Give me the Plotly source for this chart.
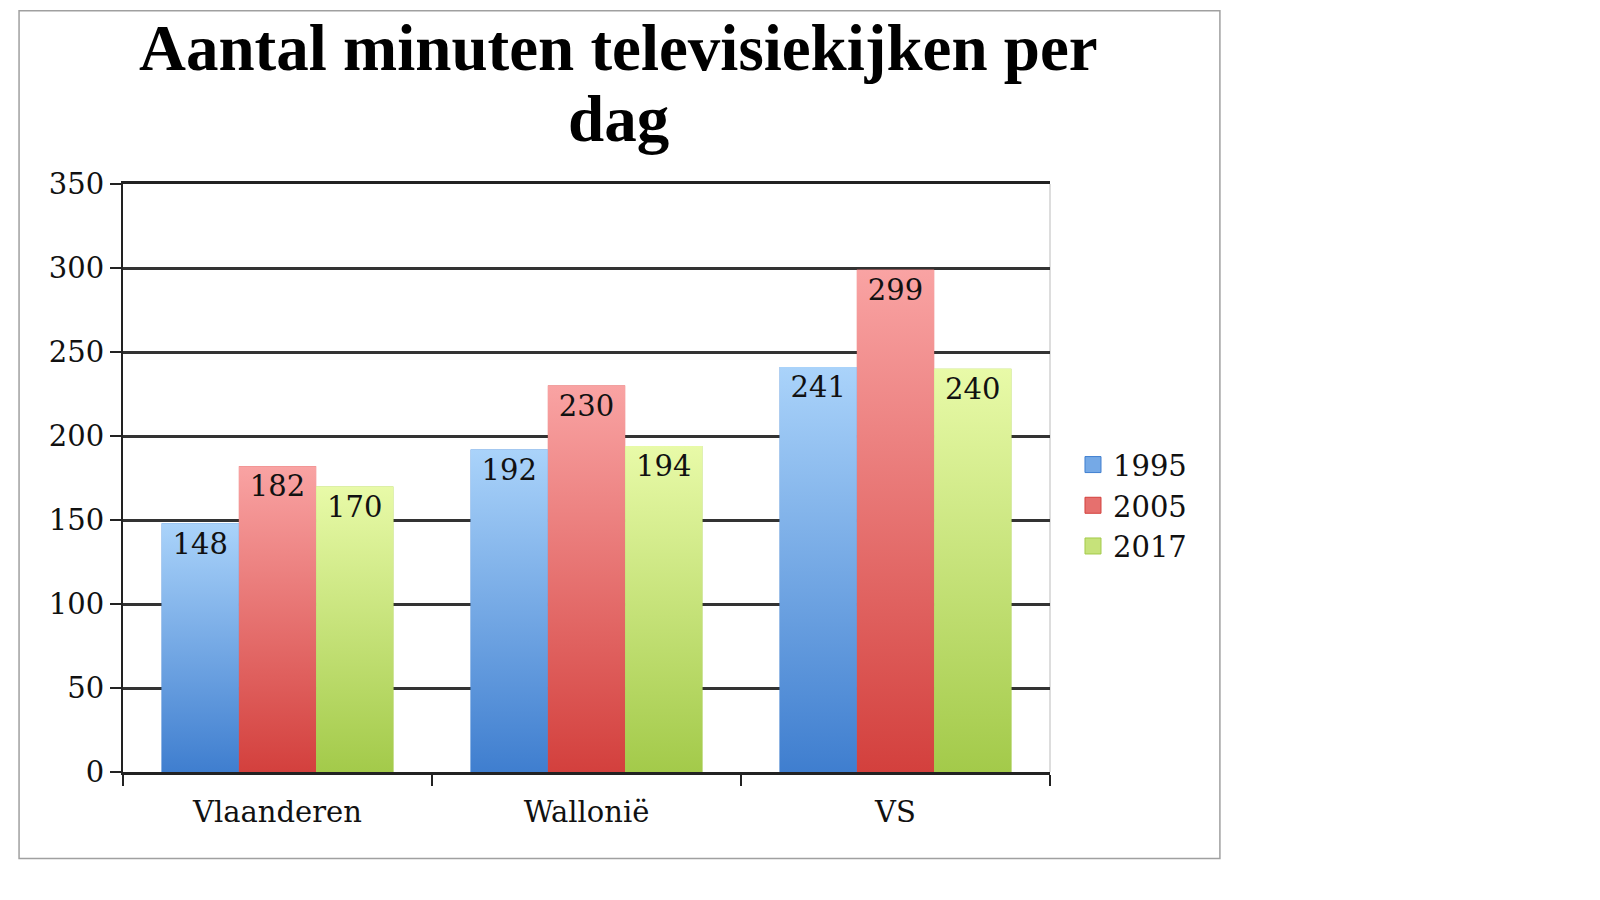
import plotly.graph_objects as go

categories = ["Vlaanderen", "Wallonië", "VS"]
years = ["1995", "2005", "2017"]
values_1995 = [148, 192, 241]
values_2005 = [182, 230, 299]
values_2017 = [170, 194, 240]
series = [values_1995, values_2005, values_2017]

top_colors = ["#AAD3FA", "#F9A3A3", "#E8FAA8"]
bottom_colors = ["#3F7ECF", "#D3403D", "#A3CA4A"]
mid_colors = ["#75A9E6", "#E6706E", "#C6E27A"]

TITLE_FONT = "Liberation Serif"
BODY_FONT = "DejaVu Serif"

bar_w = 0.25
group_w = bar_w * len(series)
xs = list(range(len(categories)))

fig = go.Figure()

# Bars (base)
for k, (name, vals) in enumerate(zip(years, series)):
    fig.add_trace(go.Bar(
        x=xs, y=vals, name=name,
        marker=dict(color=bottom_colors[k], line=dict(width=0)),
        width=bar_w,
        offset=-group_w / 2 + k * bar_w,
        showlegend=False,
        hoverinfo="x+y+name",
    ))

# Gradient overlay on each bar
for k, vals in enumerate(series):
    for i, v in zip(xs, vals):
        x0 = i - group_w / 2 + k * bar_w
        x1 = x0 + bar_w
        fig.add_trace(go.Scatter(
            x=[x0, x1, x1, x0, x0], y=[0, 0, v, v, 0],
            mode="lines", line=dict(width=0), fill="toself",
            fillgradient=dict(type="vertical",
                              colorscale=[[0, bottom_colors[k]], [1, top_colors[k]]],
                              start=0, stop=v),
            showlegend=False, hoverinfo="skip",
        ))

# Data labels
for k, vals in enumerate(series):
    fig.add_trace(go.Scatter(
        x=[i - group_w / 2 + (k + 0.5) * bar_w for i in xs], y=vals,
        mode="markers+text", text=[str(v) for v in vals],
        marker=dict(size=12, opacity=0),
        textposition="bottom center",
        textfont=dict(family=BODY_FONT, size=29, color="#111111"),
        showlegend=False, hoverinfo="skip",
    ))

# Legend entries (square swatches)
for k, name in enumerate(years):
    fig.add_trace(go.Scatter(
        x=[None], y=[None], mode="markers", name=name,
        marker=dict(symbol="square", size=22, color=mid_colors[k],
                    line=dict(color=bottom_colors[k], width=1)),
        showlegend=True,
    ))

# page body has an 8px margin, so pixel positions are shifted by -8
OFF = 8
L, R, T, B = 122.5 - OFF, 1050 - OFF, 184 - OFF, 772.5 - OFF
pw, ph = R - L, B - T

def px_x(x):
    return (x - OFF - L) / pw

def px_y(y):
    return (B - (y - OFF)) / ph

fig.update_layout(
    width=1600, height=900,
    margin=dict(l=L, r=1600 - R, t=T, b=900 - B, autoexpand=False),
    paper_bgcolor="white", plot_bgcolor="white",
    barmode="overlay",
    font=dict(family=BODY_FONT, size=29, color="#111111"),
    legend=dict(x=px_x(1073), y=px_y(506), xanchor="left", yanchor="middle",
                font=dict(family=BODY_FONT, size=29, color="#111111"),
                bgcolor="rgba(0,0,0,0)", itemwidth=30, tracegroupgap=0),
    xaxis=dict(
        range=[-0.5, 2.5], tickmode="array", tickvals=xs, ticktext=categories,
        ticks="", showgrid=False, zeroline=False,
        showline=True, linecolor="#222222", linewidth=2.5, mirror=True,
        tickfont=dict(family=BODY_FONT, size=29, color="#111111"),
        ticklabelstandoff=12,
        minor=dict(tickmode="array", tickvals=[-0.5, 0.5, 1.5, 2.5],
                   ticks="outside", ticklen=11, tickwidth=2, tickcolor="#222222",
                   showgrid=False),
    ),
    yaxis=dict(
        range=[0, 350], tick0=0, dtick=50,
        showgrid=True, gridcolor="#333333", gridwidth=2.5,
        zeroline=False, showline=True, linecolor="#222222", linewidth=2,
        ticks="outside", ticklen=11, tickwidth=2, tickcolor="#222222",
        tickfont=dict(family=BODY_FONT, size=29, color="#111111"),
        ticklabelstandoff=0,
    ),
    showlegend=True,
)

# Light right border of plot area
fig.add_shape(type="line", xref="paper", yref="paper", x0=1, x1=1, y0=0, y1=1,
              line=dict(color="#DDDDDD", width=2), layer="below")

# Outer chart border
fig.add_shape(type="rect", xref="paper", yref="paper",
              x0=px_x(18.5), x1=px_x(1220), y0=px_y(859), y1=px_y(10.5),
              line=dict(color="#A0A0A0", width=1.5))

# Title (two lines)
title_lines = ["Aantal minuten televisiekijken per", "dag"]
for line, yc in zip(title_lines, [48, 119]):
    fig.add_annotation(text="<b>" + line + "</b>", xref="paper", yref="paper",
                       x=px_x(618), y=px_y(yc), xanchor="center", yanchor="middle",
                       showarrow=False,
                       font=dict(family=TITLE_FONT, size=65, color="#000000"))

fig.write_html("out.html")
